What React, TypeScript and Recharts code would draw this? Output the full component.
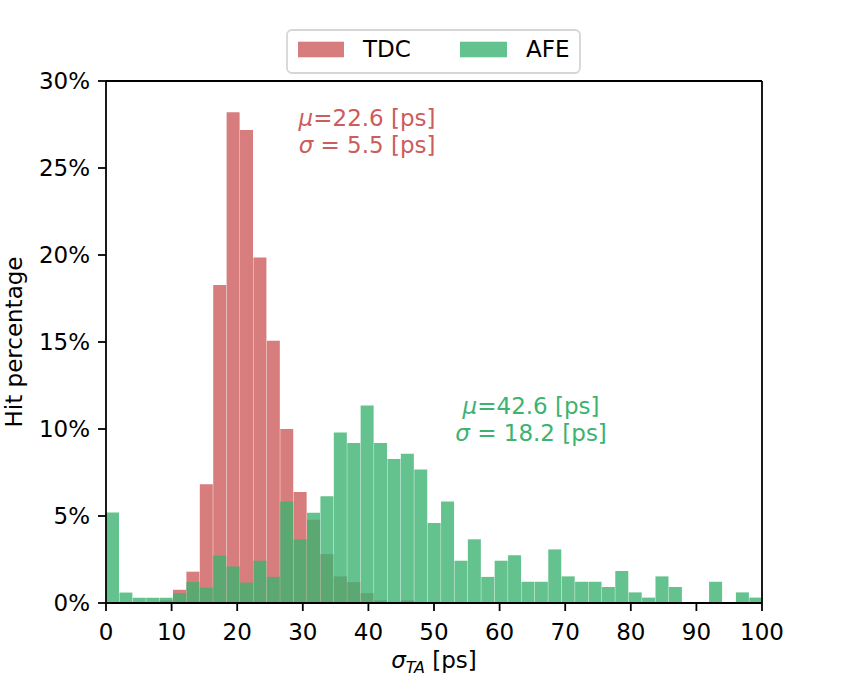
import React from "react";
import {
  BarChart,
  Bar,
  XAxis,
  YAxis,
  ReferenceLine,
  ReferenceDot,
  Label,
} from "recharts";

const FONT = "DejaVu Sans, sans-serif";
const BIN = 2.043; // histogram bin width in ps

// share of hits per bin (bins start at 0 ps)
const tdcPct = [
  0, 0, 0, 0, 0.15, 0.76, 1.8, 6.82, 18.28, 28.2, 27.18, 19.86, 15.07, 10.0,
  6.38, 4.79, 2.81, 1.53, 1.2, 0.57, 0.15, 0, 0.15, 0, 0, 0, 0, 0, 0, 0, 0, 0,
  0, 0, 0, 0, 0, 0, 0, 0, 0, 0, 0, 0, 0, 0, 0, 0, 0,
];
const afePct = [
  5.2, 0.6, 0.3, 0.3, 0.3, 0.57, 1.2, 0.88, 2.72, 2.1, 1.17, 2.43, 1.5, 5.83,
  3.66, 5.19, 6.13, 9.8, 9.2, 11.35, 9.2, 8.28, 8.58, 7.67, 4.6, 5.83, 2.43,
  3.66, 1.5, 2.43, 2.74, 1.22, 1.22, 3.08, 1.53, 1.22, 1.22, 0.92, 1.84, 0.61,
  0.31, 1.53, 0.92, 0, 0, 1.22, 0, 0.61, 0.31,
];

const xTicks = [0, 10, 20, 30, 40, 50, 60, 70, 80, 90, 100];
const yTicks = [0, 5, 10, 15, 20, 25, 30];
const names = ["TDC", "AFE"];
const tdcStats = ["22.6", "5.5"];
const afeStats = ["42.6", "18.2"];

const RED = "#CD5C5C";
const GREEN = "#3CB371";

const data = tdcPct.map((v, i) => ({
  x: (i + 0.5) * BIN,
  tdc: v,
  afe: afePct[i],
}));

const axisStroke = { stroke: "#000", strokeWidth: 1.8 };
const tickStyle = { fill: "#000", fontSize: 23, fontFamily: FONT };

const XTitle = (props: any) => {
  const vb = props.viewBox;
  const cx = vb.x + vb.width / 2;
  return (
    <text
      x={cx}
      y={vb.y + 65}
      textAnchor="middle"
      fontSize={23}
      fontFamily={FONT}
      fill="#000"
    >
      <tspan fontStyle="italic">σ</tspan>
      <tspan fontStyle="italic" fontSize={16} dy={5}>
        TA
      </tspan>
      <tspan dy={-5}> [ps]</tspan>
    </text>
  );
};

const YTitle = (props: any) => {
  const vb = props.viewBox;
  const x = vb.x + 22;
  const y = vb.y + vb.height / 2;
  return (
    <text
      x={x}
      y={y}
      transform={`rotate(-90, ${x}, ${y})`}
      textAnchor="middle"
      fontSize={23}
      fontFamily={FONT}
      fill="#000"
    >
      Hit percentage
    </text>
  );
};

const Stats = ({ cx, cy, color, stats }: any) => (
  <text
    x={cx}
    y={cy}
    textAnchor="middle"
    fontSize={23}
    fontFamily={FONT}
    fill={color}
  >
    <tspan fontStyle="italic">μ</tspan>
    <tspan>{`=${stats[0]} [ps]`}</tspan>
    <tspan x={cx} dy={27} fontStyle="italic">
      σ
    </tspan>
    <tspan>{` = ${stats[1]} [ps]`}</tspan>
  </text>
);

const LegendBox = () => (
  <svg
    width={847}
    height={80}
    style={{ position: "absolute", left: 0, top: 0 }}
  >
    <rect
      x={287}
      y={30}
      width={293}
      height={43}
      rx={5}
      fill="#fff"
      stroke="#d6d6d6"
      strokeWidth={1.8}
    />
    <rect x={298} y={41.7} width={46} height={15.6} fill={RED} fillOpacity={0.8} />
    <text x={363} y={57.3} fontSize={23} fontFamily={FONT} fill="#000">
      {names[0]}
    </text>
    <rect x={460} y={41.7} width={47} height={15.6} fill={GREEN} fillOpacity={0.8} />
    <text x={526} y={57.3} fontSize={23} fontFamily={FONT} fill="#000">
      {names[1]}
    </text>
  </svg>
);

export default function App() {
  return (
    <div
      style={{
        position: "absolute",
        left: 0,
        top: 0,
        width: 847,
        height: 678,
        background: "#fff",
      }}
    >
      <BarChart
        width={847}
        height={678}
        data={data}
        margin={{ top: 81, right: 85, bottom: 0, left: 0 }}
        barCategoryGap={0}
        barGap={0}
      >
        <XAxis
          xAxisId="afe"
          dataKey="x"
          type="number"
          domain={[0, 100]}
          allowDataOverflow
          height={0}
          hide
        />
        <XAxis
          xAxisId="tdc"
          dataKey="x"
          type="number"
          domain={[0, 100]}
          ticks={xTicks}
          interval={0}
          allowDataOverflow
          height={75}
          tickSize={8}
          tickMargin={13}
          axisLine={axisStroke}
          tickLine={axisStroke}
          tick={tickStyle}
        >
          <Label content={XTitle} />
        </XAxis>
        <YAxis
          width={106}
          domain={[0, 30]}
          ticks={yTicks}
          interval={0}
          tickFormatter={(v) => `${v}%`}
          tickSize={8}
          tickMargin={8}
          axisLine={axisStroke}
          tickLine={axisStroke}
          tick={tickStyle}
        >
          <Label content={YTitle} />
        </YAxis>
        <Bar
          xAxisId="tdc"
          dataKey="tdc"
          fill={RED}
          fillOpacity={0.8}
          isAnimationActive={false}
        />
        <Bar
          xAxisId="afe"
          dataKey="afe"
          fill={GREEN}
          fillOpacity={0.8}
          isAnimationActive={false}
        />
        <ReferenceLine xAxisId="tdc" y={30} {...axisStroke} />
        <ReferenceLine xAxisId="tdc" x={100} {...axisStroke} />
        <ReferenceDot
          xAxisId="tdc"
          x={39.8}
          y={27.4}
          r={1}
          shape={(p: any) => (
            <Stats cx={p.cx} cy={p.cy} color={RED} stats={tdcStats} />
          )}
        />
        <ReferenceDot
          xAxisId="tdc"
          x={64.8}
          y={10.86}
          r={1}
          shape={(p: any) => (
            <Stats cx={p.cx} cy={p.cy} color={GREEN} stats={afeStats} />
          )}
        />
      </BarChart>
      <LegendBox />
    </div>
  );
}
